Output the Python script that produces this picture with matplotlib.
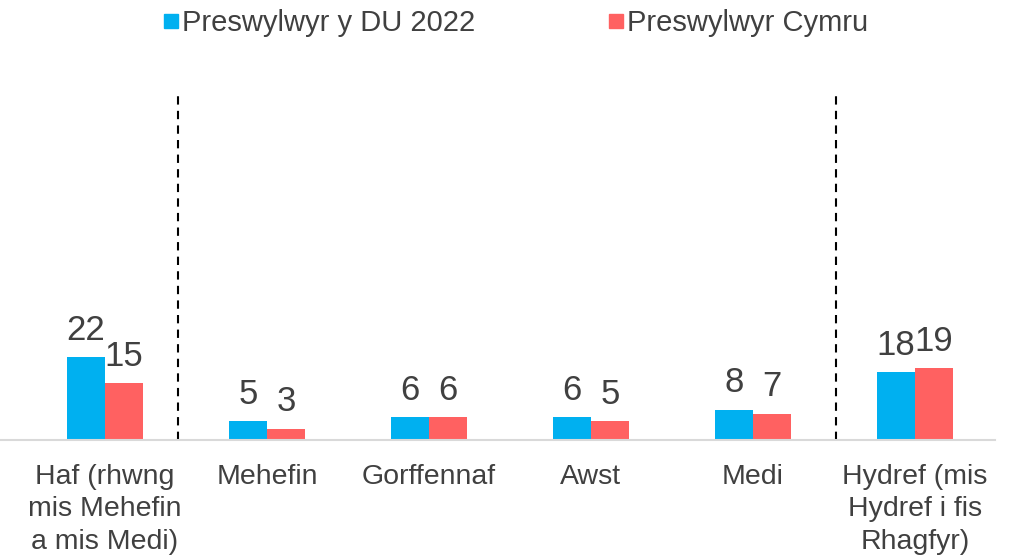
import matplotlib.pyplot as plt
from matplotlib.lines import Line2D
import numpy as np

plt.rcParams['font.family'] = ['Liberation Sans', 'DejaVu Sans']

categories = ['Haf (rhwng\nmis Mehefin\na mis Medi)', 'Mehefin', 'Gorffennaf',
              'Awst', 'Medi', 'Hydref (mis\nHydref i fis\nRhagfyr)']
uk_2022 = [22, 5, 6, 6, 8, 18]
wales = [15, 3, 6, 5, 7, 19]
series_names = ['Preswylwyr y DU 2022', 'Preswylwyr Cymru']

blue = '#00B0F0'
red = '#FF6161'
text_col = '#404040'

W, H = 1012, 559
fig = plt.figure(figsize=(W / 100, H / 100), dpi=100)
ax = fig.add_axes([0 / W, 1 - 440 / H, 995 / W, (440 - 93) / H])

x = np.arange(len(categories))
bw = 0.235
b1 = ax.bar(x - bw / 2, uk_2022, bw, color=blue)
b2 = ax.bar(x + bw / 2, wales, bw, color=red)

for bars in (b1, b2):
    for r in bars:
        ax.annotate(f'{r.get_height():g}', (r.get_x() + r.get_width() / 2, r.get_height()),
                    xytext=(0, 7.5), textcoords='offset points', ha='center', va='bottom',
                    fontsize=25, color=text_col)

for xv in (0.45, 4.51):
    ax.axvline(xv, color='black', ls=(0, (4, 3)), lw=1.5)

ax.set_xlim(-105 / 162, 890 / 162)
ax.set_ylim(0, 347 / 3.77)
ax.set_xticks(x)
ax.set_xticklabels(categories, fontsize=20.5, color=text_col, linespacing=1.33)
ax.tick_params(axis='x', length=0, pad=17)
ax.set_yticks([])
for s in ('top', 'right', 'left'):
    ax.spines[s].set_visible(False)
ax.spines['bottom'].set_color('#D9D9D9')
ax.spines['bottom'].set_linewidth(1.5)

handles = [Line2D([], [], marker='s', ls='', color=c, markersize=10) for c in (blue, red)]
fig.legend(handles, series_names, loc='center', bbox_to_anchor=(516 / W, 1 - 23 / H), ncol=2,
           frameon=False, fontsize=21, labelcolor=text_col, handlelength=0.45,
           handletextpad=0.15, columnspacing=4.6)

fig.savefig('out.png', dpi=100)
